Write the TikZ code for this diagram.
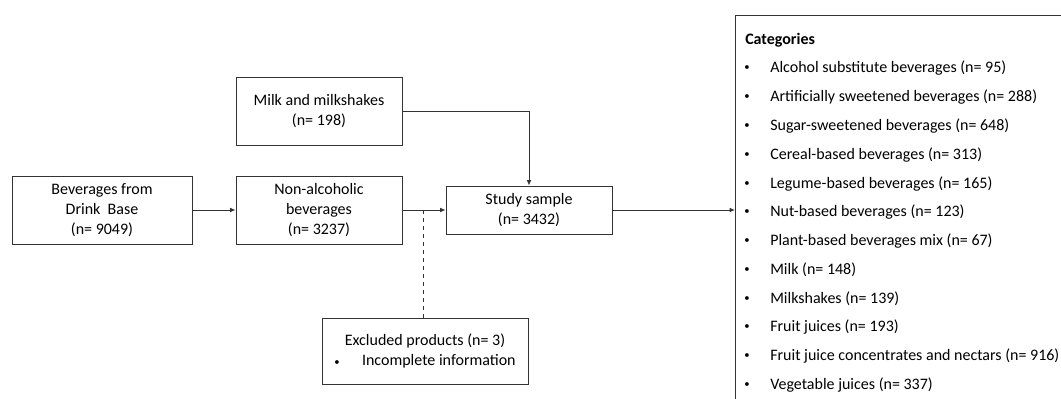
\documentclass[tikz,border=0pt]{standalone}
\usepackage{fontspec}
\setmainfont{Carlito}
\usetikzlibrary{arrows.meta}
\tikzset{>={Latex[length=4pt,width=3.5pt]}}
\newcommand{\boxfont}{\fontsize{12}{15}\selectfont}
\newcommand{\smallbullet}{{\fontsize{8}{8}\selectfont\textbullet}}
\tikzset{
  box/.style = {draw=black!80, line width=0.7pt, align=center, font=\boxfont, inner sep=0pt},
  flow/.style = {->, draw=black!80, line width=0.7pt},
  catitem/.style = {anchor=west, inner sep=0pt, font=\boxfont}
}

\begin{document}
\begin{tikzpicture}[x=0.75pt, y=-0.75pt]
  \useasboundingbox (0,0) rectangle (1061,399);
  % boxes
  \node[box, minimum width=135pt, minimum height=51pt] (src) at (102,210)
    {Beverages from\\Drink\ \ Base\\(n= 9049)};
  \node[box, minimum width=124.5pt, minimum height=51pt] (nonalc) at (319,210)
    {Non-alcoholic\\beverages\\(n= 3237)};
  \node[box, minimum width=124.5pt, minimum height=51pt] (milk) at (319,111)
    {Milk and milkshakes\\(n= 198)};
  \node[box, minimum width=124.5pt, minimum height=36pt] (study) at (529,210)
    {Study sample\\(n= 3432)};
  \node[box, minimum width=154.5pt, minimum height=49.5pt] (excl) at (425,351)
    {Excluded products (n= 3)\\\smallbullet\hspace{1.4em}Incomplete information};
  \node[box, anchor=north west, minimum width=275pt, minimum height=300pt] (cat) at (735,15) {};
  % categories
  \node[catitem, font=\boxfont\bfseries] (cattitle) at (745,40) {Categories};
  \foreach \name [count=\i from 0] in {
      Alcohol substitute beverages (n= 95),
      Artificially sweetened beverages (n= 288),
      Sugar-sweetened beverages (n= 648),
      Cereal-based beverages (n= 313),
      Legume-based beverages (n= 165),
      Nut-based beverages (n= 123),
      Plant-based beverages mix (n= 67),
      Milk (n= 148),
      Milkshakes (n= 139),
      Fruit juices (n= 193),
      Fruit juice concentrates and nectars (n= 916),
      Vegetable juices (n= 337)} {
    \node[inner sep=0pt] (b\i) at (747,{68.5+28.77*\i}) {\smallbullet};
    \node[catitem] (c\i) at (770,{68.5+28.77*\i}) {\name};
  }
  % arrows
  \draw[flow] (src) -- (nonalc);
  \draw[flow] (nonalc) -- coordinate[pos=0.48] (split) (study);
  \draw[flow] (milk.east) -| (study.north);
  \draw[flow] (study) -- (study -| cat.west);
  \draw[draw=black!80, line width=0.7pt, dashed] (split) -- (split |- excl.north);
\end{tikzpicture}
\end{document}
